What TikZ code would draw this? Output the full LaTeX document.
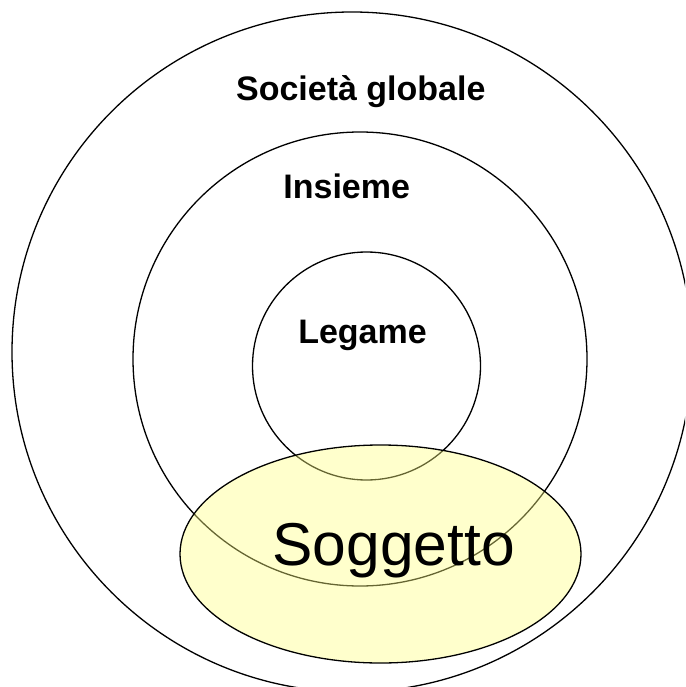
\documentclass[tikz,border=0pt]{standalone}
\usepackage{fontspec}
\setmainfont{Liberation Sans}
\definecolor{soggettofill}{RGB}{255,255,128}

\begin{document}
\begin{tikzpicture}[x=1pt,y=-1pt,
		ring/.style={draw=black, line width=1.3pt},
		livello/.style={inner sep=0pt, anchor=base, font=\fontsize{34}{40}\selectfont\bfseries}]
				\useasboundingbox (0,0) rectangle (685,687);
				\clip (0,0) rectangle (685,687);
				
				\draw[ring] (352,352) circle [radius=340];
				\draw[ring] (360,359) circle [radius=227];
				\draw[ring] (366.5,366) circle [radius=114];
				
				\draw[ring, fill=soggettofill, fill opacity=0.4] (380.5,554) ellipse [x radius=200.5, y radius=109];
				
				\node[livello] (societa) at (360.8,100.7) {Società globale};
				\node[livello] (insieme) at (346.7,198.3) {Insieme};
				\node[livello] (legame) at (362.5,343.3) {Legame};
				\node[inner sep=0pt, anchor=base, font=\fontsize{60.5}{72}\selectfont] (soggetto) at (393.7,565.5) {Soggetto};
			\end{tikzpicture}
\end{document}
